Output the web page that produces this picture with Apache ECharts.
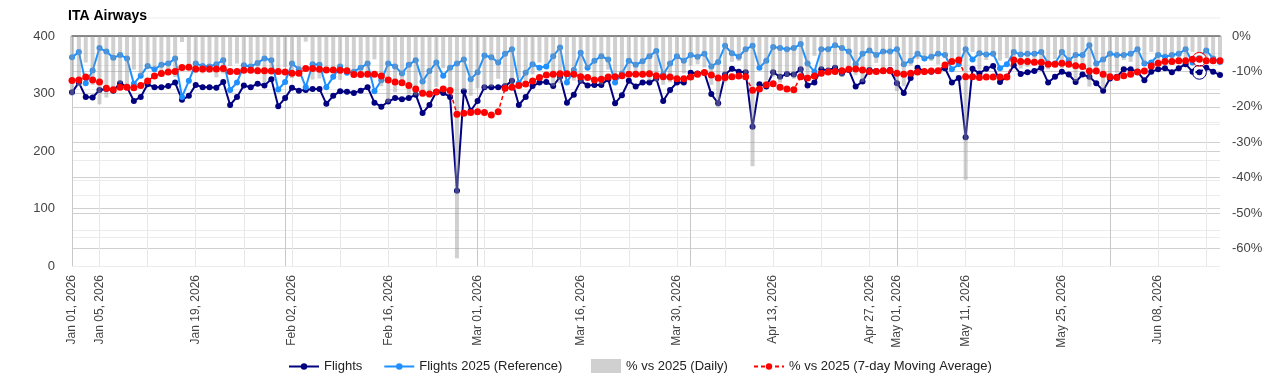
<!DOCTYPE html>
<html>
<head>
<meta charset="utf-8">
<script src="https://cdn.jsdelivr.net/npm/echarts@6/dist/echarts.min.js"></script>
<style>
  html, body { margin: 0; padding: 0; background: #fff; }
  #chart { width: 1280px; height: 387px; }
</style>
</head>
<body>
<div id="chart"></div>
<script>
  // daily values, Jan 01 2026 .. Jun 17 2026
  const startDate = Date.UTC(2026, 0, 1);

  const flights = [
    302, 319, 294, 293, 306, 308, 305, 318, 311, 287,
    294, 316, 311, 311, 313, 319, 289, 296, 315, 311,
    311, 310, 320, 280, 294, 314, 311, 317, 314, 325,
    278, 292, 310, 305, 306, 308, 308, 282, 296, 304,
    303, 301, 305, 311, 284, 277, 286, 292, 290, 292,
    298, 266, 280, 303, 301, 294, 131, 304, 270, 287,
    311, 311, 311, 313, 322, 280, 294, 313, 319, 320,
    313, 329, 284, 298, 322, 314, 315, 315, 325, 283,
    297, 322, 312, 319, 319, 326, 287, 306, 319, 319,
    336, 335, 336, 299, 283, 333, 343, 338, 337, 242,
    316, 312, 337, 329, 334, 333, 342, 314, 319, 342,
    340, 345, 335, 341, 312, 321, 341, 339, 339, 341,
    318, 301, 327, 345, 338, 338, 339, 344, 319, 327,
    224, 343, 335, 343, 348, 320, 329, 349, 334, 337,
    339, 345, 319, 329, 338, 333, 320, 333, 329, 318,
    305, 326, 329, 342, 342, 338, 323, 338, 342, 344,
    337, 344, 351, 338, 337, 345, 338, 332
  ];

  const flightsRef = [
    363, 372, 318, 340, 379, 373, 362, 367, 361, 317,
    331, 348, 342, 350, 352, 361, 294, 322, 352, 348,
    347, 351, 358, 306, 319, 349, 347, 353, 361, 358,
    307, 320, 352, 342, 311, 351, 350, 311, 329, 347,
    336, 338, 345, 352, 304, 323, 352, 347, 335, 350,
    358, 321, 339, 354, 331, 345, 352, 359, 325, 337,
    366, 363, 354, 369, 377, 318, 336, 351, 345, 347,
    365, 380, 319, 341, 371, 345, 357, 365, 359, 319,
    335, 357, 350, 356, 365, 374, 333, 352, 365, 357,
    367, 364, 369, 347, 355, 383, 370, 364, 377, 383,
    345, 357, 381, 379, 377, 379, 386, 352, 338, 377,
    377, 384, 379, 373, 351, 369, 375, 367, 373, 373,
    377, 351, 357, 369, 361, 364, 369, 367, 342, 351,
    377, 359, 370, 368, 369, 344, 351, 372, 368, 369,
    369, 372, 352, 352, 372, 358, 367, 367, 384, 352,
    359, 369, 367, 367, 369, 377, 352, 354, 367, 364,
    367, 369, 377, 354, 363, 375, 361, 355
  ];

  const pctDaily = [
    -16.8, -14.2, -7.5, -13.8, -19.3, -17.4, -15.7, -13.4, -13.9, -9.5,
    -11.2, -9.2, -9.1, -11.1, -11.1, -11.6, -1.7, -8.1, -10.5, -10.6,
    -10.4, -11.7, -10.6, -8.5, -7.8, -10.0, -10.4, -10.2, -13.0, -9.2,
    -9.4, -8.8, -11.9, -10.8, -1.6, -12.3, -12.0, -9.3, -10.0, -12.4,
    -9.8, -10.9, -11.6, -11.6, -6.6, -14.2, -18.8, -15.9, -13.4, -16.6,
    -16.8, -17.1, -17.4, -14.4, -9.1, -14.8, -62.8, -15.3, -16.9, -14.8,
    -15.0, -14.3, -12.1, -15.2, -14.6, -11.9, -12.5, -10.8, -7.5, -7.8,
    -14.2, -13.4, -11.0, -12.6, -13.2, -9.0, -11.8, -13.7, -9.5, -11.3,
    -11.3, -9.8, -10.9, -10.4, -12.6, -12.8, -13.8, -13.1, -12.6, -10.6,
    -8.4, -8.0, -8.9, -13.8, -20.3, -13.1, -7.3, -7.1, -10.6, -36.8,
    -8.4, -12.6, -11.5, -13.2, -11.4, -12.1, -11.4, -10.8, -5.6, -9.3,
    -9.8, -10.2, -11.6, -8.6, -11.1, -13.0, -9.1, -7.6, -9.1, -8.6,
    -15.6, -14.2, -8.4, -6.5, -6.4, -7.1, -8.1, -6.3, -6.7, -6.8,
    -40.6, -4.5, -9.5, -6.8, -5.7, -7.0, -6.3, -6.2, -9.2, -8.7,
    -8.1, -7.3, -9.4, -6.5, -9.1, -7.0, -12.8, -9.3, -14.3, -9.7,
    -15.0, -11.7, -10.4, -6.8, -7.3, -10.3, -8.2, -4.5, -6.8, -5.5,
    -8.2, -6.8, -6.9, -4.5, -7.2, -8.0, -6.4, -6.5
  ];

  const pctAvg = [
    -12.6, -12.4, -11.6, -12.4, -13.0, -14.8, -15.2, -14.5, -14.5, -14.6,
    -14.0, -12.7, -11.3, -10.6, -10.2, -10.0, -8.9, -8.8, -9.3, -9.3,
    -9.3, -9.3, -9.2, -10.0, -10.0, -9.7, -9.7, -9.8, -9.8, -9.9,
    -10.0, -10.2, -10.5, -10.5, -9.2, -9.2, -9.4, -9.6, -9.6, -9.7,
    -9.8, -10.9, -10.9, -10.8, -10.8, -11.3, -12.4, -13.0, -13.2, -14.0,
    -15.0, -16.2, -16.4, -15.8, -15.0, -15.4, -22.1, -21.8, -21.6, -21.4,
    -21.6, -22.3, -21.4, -14.8, -14.5, -14.0, -13.6, -12.7, -11.7, -11.0,
    -10.8, -10.7, -10.7, -10.8, -11.5, -11.7, -12.4, -12.2, -11.6, -11.5,
    -11.2, -10.8, -10.8, -10.8, -10.7, -11.2, -11.5, -11.6, -12.1, -12.1,
    -11.6, -10.8, -10.3, -11.0, -11.9, -11.7, -11.5, -11.3, -11.5, -15.3,
    -15.0, -13.8, -13.5, -14.5, -15.0, -15.2, -11.5, -11.9, -11.3, -10.5,
    -10.2, -10.0, -9.8, -9.4, -9.3, -9.6, -10.0, -10.0, -9.8, -9.8,
    -10.5, -10.8, -10.5, -10.2, -10.0, -9.9, -9.8, -8.2, -7.2, -6.8,
    -11.5, -11.5, -11.7, -11.6, -11.6, -11.6, -11.6, -6.8, -7.2, -7.2,
    -7.4, -7.4, -8.0, -8.0, -7.7, -8.0, -8.4, -8.6, -9.9, -9.9,
    -10.8, -11.5, -11.7, -11.2, -10.8, -10.2, -9.9, -8.5, -7.7, -7.2,
    -7.2, -7.0, -7.0, -6.6, -6.6, -7.0, -7.0, -7.0
  ];

  const tickLabels = [
    'Jan 01, 2026', 'Jan 05, 2026', 'Jan 19, 2026', 'Feb 02, 2026', 'Feb 16, 2026',
    'Mar 01, 2026', 'Mar 16, 2026', 'Mar 30, 2026', 'Apr 13, 2026', 'Apr 27, 2026',
    'May 01, 2026', 'May 11, 2026', 'May 25, 2026', 'Jun 08, 2026'
  ];
  const monthStarts = ['Jan 01, 2026', 'Feb 01, 2026', 'Mar 01, 2026', 'Apr 01, 2026', 'May 01, 2026', 'Jun 01, 2026'];
  const focusDay = 'Jun 14, 2026';

  const monthNames = ['Jan', 'Feb', 'Mar', 'Apr', 'May', 'Jun', 'Jul', 'Aug', 'Sep', 'Oct', 'Nov', 'Dec'];
  const dayDates = flights.map((_, i) => new Date(startDate + i * 86400000));
  const days = dayDates.map(d =>
    monthNames[d.getUTCMonth()] + ' ' + String(d.getUTCDate()).padStart(2, '0') + ', ' + d.getUTCFullYear());
  const focusIdx = days.indexOf(focusDay);

  const navy = '#000080';
  const sky = '#1E90FF';
  const red = '#FF0000';

  function ring(color, value) {
    return {
      symbol: 'circle',
      silent: true,
      label: { show: false },
      data: [
        { coord: [focusDay, value], symbolSize: 10, itemStyle: { color: 'rgba(0,0,0,0)', borderColor: '#fff', borderWidth: 2 } },
        { coord: [focusDay, value], symbolSize: 14, itemStyle: { color: 'rgba(0,0,0,0)', borderColor: color, borderWidth: 1 } }
      ]
    };
  }

  const legendBase = {
    padding: 0,
    top: 360,
    itemWidth: 30,
    itemGap: 21,
    textStyle: { fontSize: 13, color: '#222' }
  };

  const chart = echarts.init(document.getElementById('chart'));
  chart.setOption({
    animation: false,
    textStyle: { fontFamily: '"Liberation Sans", Arial, sans-serif' },
    title: {
      text: 'ITA Airways',
      left: 68,
      top: 9,
      padding: 0,
      textStyle: { fontSize: 14, fontWeight: 'bold', color: '#000' }
    },
    legend: [
      Object.assign({}, legendBase, { left: 288, itemHeight: 8, data: ['Flights', 'Flights 2025 (Reference)'] }),
      Object.assign({}, legendBase, { left: 591, top: 359, itemHeight: 14, data: [{ name: '% vs 2025 (Daily)', icon: 'rect' }] }),
      Object.assign({}, legendBase, { left: 753, itemHeight: 8, data: ['% vs 2025 (7-day Moving Average)'] })
    ],
    graphic: [{
      type: 'line',
      silent: true,
      shape: { x1: 72, y1: 18, x2: 1220, y2: 18 },
      style: { stroke: '#ececec', lineWidth: 1 }
    }],
    grid: { left: 72, right: 60, top: 36, bottom: 121 },
    xAxis: [
      {
        type: 'category',
        data: days,
        boundaryGap: false,
        axisLine: { show: false },
        axisTick: { show: false },
        axisLabel: {
          rotate: 90,
          fontSize: 12,
          color: '#444',
          margin: 9,
          interval: (i, v) => tickLabels.includes(v)
        },
        splitLine: {
          show: true,
          interval: i => dayDates[i].getUTCDay() === 1,
          lineStyle: { color: '#e8e8e8', width: 1 }
        }
      },
      {
        type: 'category',
        data: days,
        boundaryGap: false,
        position: 'top',
        axisLine: { show: true, lineStyle: { color: '#666', width: 1.5 } },
        axisTick: { show: false },
        axisLabel: { show: false },
        splitLine: {
          show: true,
          interval: (i, v) => monthStarts.includes(v),
          lineStyle: { color: '#c8c8c8', width: 1 }
        }
      }
    ],
    yAxis: [
      {
        type: 'value',
        min: 0,
        max: 400,
        interval: 100,
        position: 'left',
        axisLine: { show: false },
        axisTick: { show: false },
        axisLabel: { fontSize: 13, color: '#444', margin: 17 },
        splitLine: { lineStyle: { color: '#d0d0d0' } },
        minorTick: { show: false, splitNumber: 2 },
        minorSplitLine: { show: true, lineStyle: { color: '#ececec' } }
      },
      {
        type: 'value',
        min: -65,
        max: 0,
        interval: 5,
        position: 'right',
        axisLine: { show: false },
        axisTick: { show: false },
        axisLabel: {
          fontSize: 13,
          color: '#444',
          margin: 12,
          formatter: v => (v % 10 === 0 ? v + '%' : '')
        },
        splitLine: { lineStyle: { color: ['#ececec', '#d0d0d0'] } }
      }
    ],
    series: [
      {
        name: 'Flights',
        type: 'line',
        yAxisIndex: 0,
        data: flights,
        z: 2,
        symbol: 'circle',
        symbolSize: 6,
        showAllSymbol: true,
        itemStyle: { color: navy },
        lineStyle: { color: navy, width: 2 },
        markPoint: ring(navy, flights[focusIdx])
      },
      {
        name: 'Flights 2025 (Reference)',
        type: 'line',
        yAxisIndex: 0,
        data: flightsRef,
        z: 3,
        symbol: 'circle',
        symbolSize: 6,
        showAllSymbol: true,
        itemStyle: { color: sky },
        lineStyle: { color: sky, width: 2 }
      },
      {
        name: '% vs 2025 (Daily)',
        type: 'bar',
        yAxisIndex: 1,
        data: pctDaily,
        z: 4,
        barWidth: 4,
        itemStyle: { color: 'rgba(150,150,150,0.45)' }
      },
      {
        name: '% vs 2025 (7-day Moving Average)',
        type: 'line',
        yAxisIndex: 1,
        data: pctAvg,
        z: 5,
        symbol: 'circle',
        symbolSize: 7,
        showAllSymbol: true,
        itemStyle: { color: red },
        lineStyle: { color: red, width: 1.5, type: [4, 3] },
        markPoint: ring(red, pctAvg[focusIdx])
      }
    ]
  });
</script>
</body>
</html>
